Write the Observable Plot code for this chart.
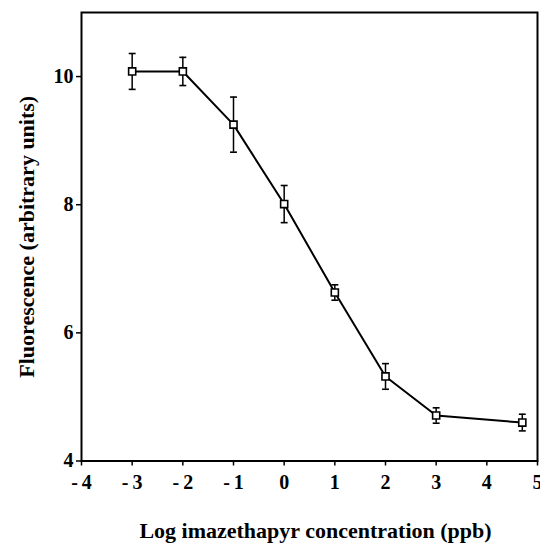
<!DOCTYPE html>
<html>
<head>
<meta charset="utf-8">
<script src="https://cdn.jsdelivr.net/npm/d3@7"></script>
<script src="https://cdn.jsdelivr.net/npm/@observablehq/plot@0.6"></script>
<style>
  html, body { margin: 0; padding: 0; background: #fff; }
  #chart svg { display: block; }
</style>
</head>
<body>
<div id="chart"></div>
<script>
// Data
const logConc = [-3, -2, -1, 0, 1, 2, 3, 4.7];
const fluorescence = [10.08, 10.08, 9.25, 8.01, 6.63, 5.32, 4.71, 4.60];
const errorSize = [0.28, 0.22, 0.43, 0.29, 0.12, 0.20, 0.12, 0.13];
const xTicks = [-4, -3, -2, -1, 0, 1, 2, 3, 4, 5];
const yTicks = [4, 6, 8, 10];
const xLabel = "Log imazethapyr concentration (ppb)";
const yLabel = "Fluorescence (arbitrary units)";

const data = logConc.map((x, i) => ({
  x, y: fluorescence[i], lo: fluorescence[i] - errorSize[i], hi: fluorescence[i] + errorSize[i]
}));

const capSymbol = {
  draw(context, size) {
    const r = Math.sqrt(size) / 2;
    context.moveTo(-r, 0);
    context.lineTo(r, 0);
  }
};

const fmtX = d => d < 0 ? "-\u2009" + Math.abs(d) : String(d);
const fmtY = d => String(d);

const chart = Plot.plot({
  width: 540,
  height: 544,
  marginLeft: 81,
  marginRight: 3,
  marginTop: 12,
  marginBottom: 83.5,
  style: { fontFamily: "'Liberation Serif', 'Times New Roman', serif", fontWeight: "bold", fontSize: "20px", color: "#000", background: "#fff" },
  x: { domain: [-4, 5] },
  y: { domain: [4, 11] },
  marks: [
    Plot.axisX({ ticks: xTicks, tickFormat: fmtX, tickSize: 5, tickPadding: 9, strokeWidth: 1.5, label: null, fontSize: 20 }),
    Plot.axisY({ ticks: yTicks, tickFormat: fmtY, tickSize: 5, tickPadding: 3, strokeWidth: 1.5, label: null, fontSize: 20 }),
    Plot.frame({ stroke: "#000", strokeWidth: 2 }),
    Plot.ruleX(data, { x: "x", y1: "lo", y2: "hi", stroke: "#000", strokeWidth: 1.5 }),
    Plot.dot(data, { x: "x", y: "lo", symbol: capSymbol, r: 3.9, stroke: "#000", strokeWidth: 1.6, fill: "none" }),
    Plot.dot(data, { x: "x", y: "hi", symbol: capSymbol, r: 3.9, stroke: "#000", strokeWidth: 1.6, fill: "none" }),
    Plot.line(data, { x: "x", y: "y", stroke: "#000", strokeWidth: 2 }),
    Plot.dot(data, { x: "x", y: "y", symbol: "square", r: 4, stroke: "#000", strokeWidth: 1.6, fill: "#fff" }),
    Plot.text([xLabel], { text: d => d, frameAnchor: "bottom", textAnchor: "middle", dx: 6, dy: 77, fontSize: 22, fontWeight: "bold", fill: "#000", style: "word-spacing:5px" }),
    Plot.text([yLabel], { text: d => d, frameAnchor: "left", textAnchor: "middle", dx: -55, rotate: -90, fontSize: 22, fontWeight: "bold", fill: "#000", style: "word-spacing:5px" })
  ]
});

document.getElementById("chart").appendChild(chart);
</script>
</body>
</html>
